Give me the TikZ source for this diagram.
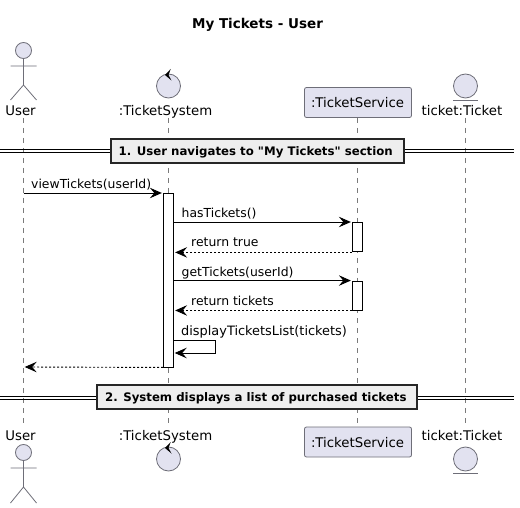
\documentclass[tikz,border=0pt]{standalone}
\usepackage{fontspec}
\newfontfamily\djv{DejaVu Sans}
\usetikzlibrary{arrows.meta}
\definecolor{partfill}{HTML}{E2E2F0}
\definecolor{partline}{HTML}{6E6E78}
\definecolor{linegray}{HTML}{7A7A7A}
\definecolor{divfill}{HTML}{EEEEEE}
\tikzset{
  msgtext/.style={inner sep=0pt,anchor=base west,font=\djv\fontsize{12.4}{15}\selectfont,text=black},
  msgwide/.style={msgtext,font=\djv\fontsize{12.9}{15}\selectfont},
  parttext/.style={inner sep=0pt,anchor=base,font=\djv\fontsize{13.3}{15}\selectfont,text=black},
  titletext/.style={inner sep=0pt,anchor=base,font=\djv\bfseries\fontsize{13.5}{15}\selectfont},
  lifeline/.style={draw=linegray,line width=0.7pt,dash pattern=on 5pt off 5pt},
  actorline/.style={draw=partline,line width=0.8pt},
  partshape/.style={draw=partline,fill=partfill,line width=0.8pt},
  partbox/.style={partshape,rounded corners=2pt,minimum width=107pt,minimum height=30pt,inner sep=0pt},
  activation/.style={draw=black,fill=white,line width=0.9pt,minimum width=10pt,inner sep=0pt},
  msg/.style={draw=black,line width=0.9pt,shorten >=1.2pt,-{Stealth[length=12pt,width=10.5pt,inset=4.5pt]}},
  ret/.style={msg,dash pattern=on 2pt off 2pt},
  divbox/.style={draw=black!85,fill=divfill,line width=1.7pt,inner sep=0pt,minimum height=23.5pt},
  divtext/.style={inner sep=0pt,anchor=base west,font=\djv\bfseries\fontsize{11.75}{14}\selectfont},
  divline/.style={draw=black,line width=0.9pt},
}
\begin{document}
\begin{tikzpicture}[x=1pt,y=-1pt]
\useasboundingbox (0,0) rectangle (520,508);
\fill[white] (0,0) rectangle (520,508);
\node[titletext] (title) at (257.5,29) {My Tickets - User};
% lifelines
\coordinate (uT) at (23.5,118); \coordinate (uB) at (23.5,423);
\coordinate (sT) at (168.5,118); \coordinate (sB) at (168.5,423);
\coordinate (vT) at (357.5,118); \coordinate (vB) at (357.5,423);
\coordinate (tT) at (465.5,118); \coordinate (tB) at (465.5,423);
\draw[lifeline] (uT) -- (uB);
\draw[lifeline] (sT) -- (sB);
\draw[lifeline] (vT) -- (vB);
\draw[lifeline] (tT) -- (tB);
% top participants
\node[parttext] (userTop) at (20.5,115.7) {User};
\node[circle,partshape,minimum size=16pt,inner sep=0pt] (uHeadTop) at (23.5,50.5) {};
\coordinate (uArmLTop) at (10.5,66); \coordinate (uArmRTop) at (36.5,66);
\coordinate (uHipTop) at (23.5,85); \coordinate (uLegLTop) at (10.5,100); \coordinate (uLegRTop) at (36.5,100);
\draw[actorline] (uHeadTop.south) -- (uHipTop) -- (uLegLTop) (uHipTop) -- (uLegRTop) (uArmLTop) -- (uArmRTop);
\node[parttext] (sysTop) at (165.5,115.7) {:TicketSystem};
\node[circle,partshape,minimum size=24pt,inner sep=0pt] (ctlTop) at (168.5,86) {};
\fill[black] (165,75) -- (170.7,69) -- (168.5,75) -- (171.5,80.5) -- cycle;
\node[partbox] (svcTop) at (358,102.5) {};
\node[parttext] (svcTopText) at (357.5,108) {:TicketService};
\node[parttext] (tktTop) at (462,115.7) {ticket:Ticket};
\node[circle,partshape,minimum size=24pt,inner sep=0pt] (entTop) at (465.5,86) {};
\coordinate (entLTop) at (453.3,100); \coordinate (entRTop) at (477.7,100);
\draw[actorline] (entLTop) -- (entRTop);
% bottom participants
\node[parttext] (userBot) at (20.5,440) {User};
\node[circle,partshape,minimum size=16pt,inner sep=0pt] (uHeadBot) at (23.5,452.5) {};
\coordinate (uArmLBot) at (10.5,468); \coordinate (uArmRBot) at (36.5,468);
\coordinate (uHipBot) at (23.5,487); \coordinate (uLegLBot) at (10.5,503); \coordinate (uLegRBot) at (36.5,503);
\draw[actorline] (uHeadBot.south) -- (uHipBot) -- (uLegLBot) (uHipBot) -- (uLegRBot) (uArmLBot) -- (uArmRBot);
\node[parttext] (sysBot) at (165.5,440) {:TicketSystem};
\node[circle,partshape,minimum size=24pt,inner sep=0pt] (ctlBot) at (168.5,459) {};
\fill[black] (165,448) -- (170.7,442) -- (168.5,448) -- (171.5,453.5) -- cycle;
\node[partbox] (svcBot) at (358,442) {};
\node[parttext] (svcBotText) at (357.5,447.7) {:TicketService};
\node[parttext] (tktBot) at (462,440) {ticket:Ticket};
\node[circle,partshape,minimum size=24pt,inner sep=0pt] (entBot) at (465.5,459) {};
\coordinate (entLBot) at (453.3,473); \coordinate (entRBot) at (477.7,473);
\draw[actorline] (entLBot) -- (entRBot);
% dividers
\coordinate (d1L) at (0,149.7); \coordinate (d1R) at (514,149.7);
\coordinate (d1Lb) at (0,152.7); \coordinate (d1Rb) at (514,152.7);
\draw[divline] (d1L) -- (d1R) (d1Lb) -- (d1Rb);
\node[divbox,minimum width=293pt] (div1) at (257.5,151) {};
\node[divtext] (div1t) at (118.5,155.7) {1. User navigates to "My Tickets" section};
\coordinate (d2L) at (0,396); \coordinate (d2R) at (514,396);
\coordinate (d2Lb) at (0,399); \coordinate (d2Rb) at (514,399);
\draw[divline] (d2L) -- (d2R) (d2Lb) -- (d2Rb);
\node[divbox,minimum width=320pt] (div2) at (257,397) {};
\node[divtext] (div2t) at (105,401.7) {2. System displays a list of purchased tickets};
% activations
\node[activation,minimum height=174pt] (actS) at (168.5,280) {};
\node[activation,minimum height=29.5pt] (actV1) at (357.5,237.2) {};
\node[activation,minimum height=29pt] (actV2) at (357.5,295.5) {};
% messages
\coordinate (m1s) at (23.5,193);
\draw[msg] (m1s) -- (m1s -| actS.west);
\node[msgtext] (l1) at (31,188.7) {viewTickets(userId)};
\draw[msg] (actS.east |- actV1.north) -- (actV1.north west);
\node[msgtext] (l2) at (181.5,218) {hasTickets()};
\draw[ret] (actV1.south west) -- (actS.east |- actV1.south);
\node[msgtext] (l3) at (191,247) {return true};
\draw[msg] (actS.east |- actV2.north) -- (actV2.north west);
\node[msgtext] (l4) at (181.5,276.7) {getTickets(userId)};
\draw[ret] (actV2.south west) -- (actS.east |- actV2.south);
\node[msgtext] (l5) at (191,305.7) {return tickets};
\coordinate (selfTop) at (173.5,340); \coordinate (selfTopR) at (215.5,340);
\coordinate (selfBotR) at (215.5,353); \coordinate (selfBot) at (173.5,353);
\draw[msg] (selfTop) -- (selfTopR) -- (selfBotR) -- (selfBot);
\node[msgwide] (l6) at (181,335) {displayTicketsList(tickets)};
\coordinate (m7e) at (23.5,367);
\draw[ret] (actS.south west) -- (m7e);
\end{tikzpicture}
\end{document}
